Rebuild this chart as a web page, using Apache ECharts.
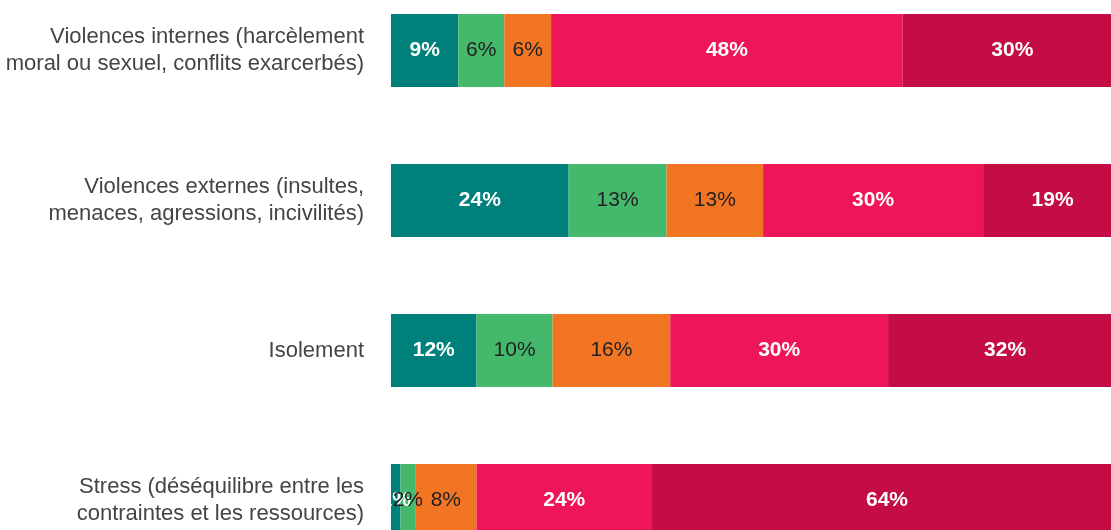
<!DOCTYPE html>
<html>
<head>
<meta charset="utf-8">
<script src="https://cdn.jsdelivr.net/npm/echarts@6/dist/echarts.min.js"></script>
<style>
  html, body { margin: 0; padding: 0; background: #ffffff; }
  #chart { width: 1111px; height: 530px; }
</style>
</head>
<body>
<div id="chart"></div>
<script>
// Risques psychosociaux : répartition des réponses (en %)
const categories = [
  'Violences internes (harcèlement\nmoral ou sexuel, conflits exarcerbés)',
  'Violences externes (insultes,\nmenaces, agressions, incivilités)',
  'Isolement',
  'Stress (déséquilibre entre les\ncontraintes et les ressources)'
];

const level1 = [9.2, 24.3, 11.7, 1.3];
const level2 = [6.3, 13.4, 10.4, 2.0];
const level3 = [6.4, 13.2, 16.1, 8.4];
const level4 = [48.1, 30.1, 29.8, 24.0];
const level5 = [30.0, 19.0, 32.0, 64.3];

const seriesValues = [level1, level2, level3, level4, level5];
const seriesColors = ['#00807a', '#45b96b', '#f27524', '#ee1558', '#c50d45'];
const labelColors = ['#ffffff', '#222222', '#222222', '#ffffff', '#ffffff'];
const labelWeights = ['bold', 'normal', 'normal', 'bold', 'bold'];

const FONT = '"Liberation Sans", Arial, sans-serif';

const chart = echarts.init(document.getElementById('chart'));

chart.setOption({
  animation: false,
  // the plot area runs a little past the canvas on the right and bottom
  grid: {
    left: 391, top: -24.5, width: 731, height: 600,
    containLabel: false,
    outerBoundsMode: 'none'
  },
  xAxis: {
    type: 'value',
    min: 0,
    max: 100,
    show: false
  },
  yAxis: {
    type: 'category',
    data: categories,
    inverse: true,
    axisLine: { show: false },
    axisTick: { show: false },
    splitLine: { show: false },
    axisLabel: {
      color: '#444444',
      fontFamily: FONT,
      fontSize: 22,
      lineHeight: 27,
      margin: 27,
      align: 'right',
      padding: [7, 0, 0, 0]
    }
  },
  series: seriesValues.map((vals, i) => ({
    type: 'bar',
    stack: 'total',
    data: vals,
    barWidth: 73,
    itemStyle: { color: seriesColors[i] },
    label: {
      show: true,
      position: 'inside',
      color: labelColors[i],
      fontWeight: labelWeights[i],
      fontFamily: FONT,
      fontSize: 21,
      formatter: p => Math.round(p.value) + '%'
    }
  }))
});
</script>
</body>
</html>
